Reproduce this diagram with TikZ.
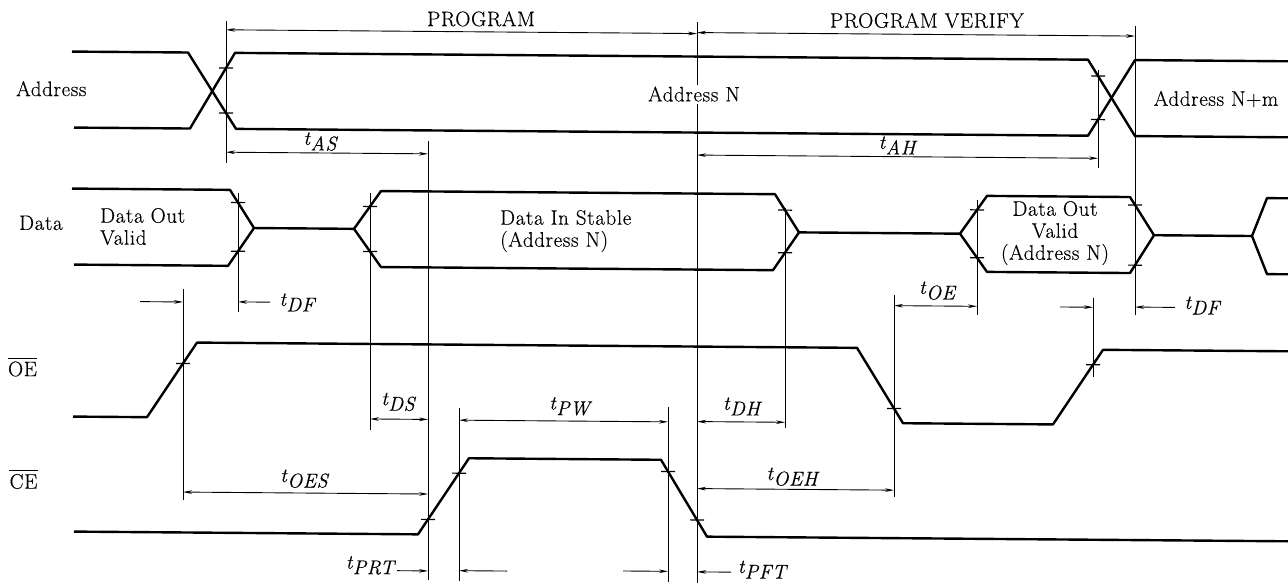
\documentclass[tikz,border=0pt]{standalone}
\usepackage{fontspec}
\setmainfont{Latin Modern Roman}[FakeBold=0.35,LetterSpace=3]
\usetikzlibrary{arrows.meta,calc}
\newcommand{\tlab}[1]{\itshape t\kern0.5pt\raisebox{-5.5pt}{#1}}
\begin{document}
\begin{tikzpicture}[x=1pt,y=-1pt,
  sig/.style={line width=2.4pt,line join=round},
  refline/.style={line width=0.9pt},
  dimboth/.style={line width=0.9pt,{Stealth[length=9pt,width=3.6pt]}-{Stealth[length=9pt,width=3.6pt]}},
  dimone/.style={line width=0.9pt,-{Stealth[length=9pt,width=3.6pt]}},
  lbl/.style={font=\fontsize{21}{22}\selectfont,inner sep=1pt},
  tlbl/.style={font=\fontsize{20}{22}\selectfont,inner sep=0pt,anchor=base},
  tickmark/.style={line width=1.2pt}]
\useasboundingbox (0,0) rectangle (1288,583);
\begin{scope}[yslant=-0.008]
% ---------- reference (vertical) lines ----------
\coordinate (v1t) at (226,19);   \coordinate (v1b) at (226,161);
\coordinate (v2t) at (697,16);   \coordinate (v2b) at (697,577);
\coordinate (v3t) at (1135,17);  \coordinate (v3b) at (1135,306);
\coordinate (v4t) at (1098,61);  \coordinate (v4b) at (1098,159);
\coordinate (v5t) at (428,138);  \coordinate (v5b) at (428,577);
\coordinate (v6t) at (238,191);  \coordinate (v6b) at (238,310);
\coordinate (v7t) at (370,190);  \coordinate (v7b) at (370,427);
\coordinate (v8t) at (785,202);  \coordinate (v8b) at (785,422);
\coordinate (v9t) at (977,192);  \coordinate (v9b) at (977,307);
\coordinate (v10t) at (183,288); \coordinate (v10b) at (183,499);
\coordinate (v11t) at (894,288); \coordinate (v11b) at (894,490);
\coordinate (v12t) at (1093,289);\coordinate (v12b) at (1093,368);
\coordinate (v13t) at (459,404); \coordinate (v13b) at (459,577);
\coordinate (v14t) at (668,402); \coordinate (v14b) at (668,577);
\foreach \v in {1,...,14} \draw[refline] (v\v t) -- (v\v b);

% ---------- Address ----------
\draw[sig] (72,51) -- (188,51) -- (236,127) -- (1088,127) -- (1135,51) -- (1288,51);
\draw[sig] (74,127) -- (190,127) -- (235,51) -- (1088,51) -- (1135,127) -- (1288,127);
% ---------- Data ----------
\draw[sig] (72,188) -- (230,188) -- (254,226) -- (354,226) -- (381,188) -- (775,188) -- (799,226)
  -- (960,226) -- (987,188) -- (1130,188) -- (1154,226) -- (1252,226) -- (1267,188) -- (1288,188);
\draw[sig] (74,264) -- (228,264) -- (254,226);
\draw[sig] (354,226) -- (381,264) -- (773,264) -- (799,226);
\draw[sig] (960,226) -- (987,264) -- (1130,264) -- (1154,226);
\draw[sig] (1252,226) -- (1267,264) -- (1288,264);
% ---------- OE ----------
\draw[sig] (73,416) -- (147,416) -- (197,341) -- (857,341) -- (903,416) -- (1053,416) -- (1103,341) -- (1288,341);
% ---------- CE ----------
\draw[sig] (74,531) -- (418,531) -- (469,454.5) -- (661,454.5) -- (707,531) -- (1288,531);

% ---------- ticks ----------
\foreach \xx/\ax/\ay/\bx/\by in {226/188/51/236/127, 226/190/127/235/51,
    1098/1088/127/1135/51, 1098/1088/51/1135/127,
    238/230/188/254/226, 238/228/264/254/226,
    370/354/226/381/188, 370/354/226/381/264,
    785/775/188/799/226, 785/773/264/799/226,
    977/960/226/987/188, 977/960/226/987/264,
    1135/1130/188/1154/226, 1135/1130/264/1154/226,
    183/147/416/197/341, 894/857/341/903/416, 1093/1053/416/1103/341,
    428/418/531/469/454.5, 459/418/531/469/454.5,
    668/661/454.5/707/531, 697/661/454.5/707/531}
  \draw[tickmark] ($(\ax,\ay)!{(\xx-\ax)/(\bx-\ax)}!(\bx,\by)$) +(-7,0) -- +(7,0);

% ---------- dimension arrows ----------
\draw[dimboth] (226,28) -- (697,28);
\draw[dimboth] (697,27) -- (1135,27);
\draw[dimboth] (226,150.4) -- (428,150.4);
\draw[dimboth] (697,149.5) -- (1098,149.5);
\draw[dimone] (270,300) -- (238,300);
\draw[dimone] (140,300.5) -- (183,300.5);
\draw[dimboth] (894,298.5) -- (977,298.5);
\draw[dimone] (1060,298.5) -- (1093,298.5);
\draw[dimone] (1175,298) -- (1135,298);
\draw[dimboth] (370,416) -- (428,416);
\draw[dimboth] (459,416.5) -- (668,416.5);
\draw[dimboth] (697,416) -- (785,416);
\draw[dimboth] (697,483) -- (894,483);
\draw[dimboth] (183,490.6) -- (428,490.6);
\draw[dimone] (397,567.5) -- (428,567.5);
\draw[dimone] (507,567) -- (459,567);
\draw[dimone] (623,566) -- (668,566);
\draw[dimone] (731,566.3) -- (697,566.3);

% ---------- labels ----------
\node[lbl] (prog) at (481,15) {PROGRAM};
\node[lbl] (progv) at (927,13) {PROGRAM VERIFY};
\node[lbl,anchor=west] (addr) at (15,88.6) {Address};
\node[lbl,fill=white,inner sep=2pt] (addrn) at (694,88.5) {Address N};
\node[lbl] (addrnm) at (1216,89.3) {Address N+m};
\node[lbl,anchor=west] (data) at (18,222.7) {Data};
\node[lbl,anchor=west,align=left] (dov1) at (99,225.7) {Data Out\\Valid};
\node[lbl,anchor=west,align=left] (dis) at (499,227) {Data In Stable\\(Address N)};
\node[lbl,align=center] (dov2) at (1055,224.6) {Data Out\\Valid\\(Address N)};
\node[lbl,inner sep=0pt] (oe) at (22.5,368.8) {OE};
\draw[line width=0.9pt] ([yshift=3pt]oe.north west) -- ([yshift=3pt]oe.north east);
\node[lbl,inner sep=0pt] (ce) at (23.5,481.3) {CE};
\draw[line width=0.9pt] ([yshift=3pt]ce.north west) -- ([yshift=3pt]ce.north east);

\node[tlbl] (tas) at (320,142.4) {\tlab{AS}};
\node[tlbl] (tah) at (897,141.8) {\tlab{AH}};
\node[tlbl] (tdf1) at (297,303.6) {\tlab{DF}};
\node[tlbl] (tdf2) at (1202,299.4) {\tlab{DF}};
\node[tlbl] (toe) at (937,286.5) {\tlab{OE}};
\node[tlbl] (tds) at (398,402) {\tlab{DS}};
\node[tlbl] (toes) at (304,479.6) {\tlab{OES}};
\node[tlbl] (tpw) at (569.5,405) {\tlab{PW}};
\node[tlbl] (tdh) at (741.5,404) {\tlab{DH}};
\node[tlbl] (toeh) at (792,473.7) {\tlab{OEH}};
\node[tlbl] (tprt) at (370,565.7) {\tlab{PRT}};
\node[tlbl] (tpft) at (762,567) {\tlab{PFT}};
\end{scope}
\end{tikzpicture}
\end{document}
